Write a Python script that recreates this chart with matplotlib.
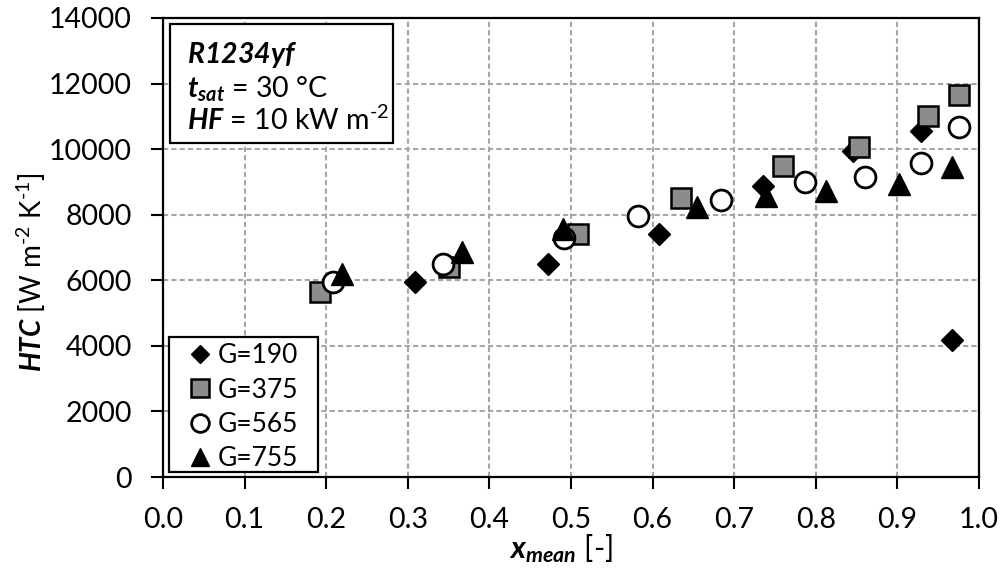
import matplotlib
matplotlib.use("Agg")
import matplotlib.pyplot as plt
from matplotlib.patches import Rectangle

plt.rcParams['font.family'] = ['Lato', 'DejaVu Sans']
plt.rcParams['mathtext.fontset'] = 'custom'
plt.rcParams['mathtext.rm'] = 'Lato'
plt.rcParams['mathtext.it'] = 'Lato:italic'
plt.rcParams['mathtext.bf'] = 'Lato:bold'
plt.rcParams['mathtext.bfit'] = 'Lato:bold:italic'

# ---- data ----
x_g190 = [0.309, 0.472, 0.608, 0.735, 0.845, 0.929, 0.967]
htc_g190 = [5950, 6500, 7400, 8880, 9950, 10550, 4170]

x_g375 = [0.193, 0.351, 0.508, 0.635, 0.760, 0.853, 0.937, 0.976]
htc_g375 = [5650, 6400, 7400, 8500, 9500, 10080, 11000, 11650]

x_g565 = [0.208, 0.343, 0.492, 0.582, 0.684, 0.787, 0.860, 0.929, 0.976]
htc_g565 = [5950, 6500, 7300, 7950, 8450, 9000, 9150, 9570, 10680]

x_g755 = [0.219, 0.366, 0.490, 0.655, 0.739, 0.812, 0.902, 0.967]
htc_g755 = [6200, 6850, 7570, 8230, 8560, 8730, 8940, 9460]

series_labels = ['G=190', 'G=375', 'G=565', 'G=755']
x_ticks = [0.0, 0.1, 0.2, 0.3, 0.4, 0.5, 0.6, 0.7, 0.8, 0.9, 1.0]
y_ticks = [0, 2000, 4000, 6000, 8000, 10000, 12000, 14000]

W, H = 1005, 569
fig = plt.figure(figsize=(W / 100, H / 100), dpi=100)


def fx(px):
    return px / W


def fy(py):
    return 1 - py / H


ax = fig.add_axes([fx(163), fy(477), 816 / W, 459 / H])

ax.plot(x_g190, htc_g190, linestyle='none', marker='D', ms=11,
        mfc='black', mec='black', label=series_labels[0])
ax.plot(x_g375, htc_g375, linestyle='none', marker='s', ms=15,
        mfc='#8c8c8c', mec='black', mew=1.8, label=series_labels[1])
ax.plot(x_g565, htc_g565, linestyle='none', marker='o', ms=15,
        mfc='white', mec='black', mew=2.0, label=series_labels[2])
ax.plot(x_g755, htc_g755, linestyle='none', marker='^', ms=16,
        mfc='black', mec='black', label=series_labels[3])

ax.set_xlim(0, 1.0)
ax.set_ylim(0, 14000)
ax.set_xticks(x_ticks)
ax.set_xticklabels([f'{v:.1f}' for v in x_ticks])
ax.set_yticks(y_ticks)
ax.set_yticklabels([str(v) for v in y_ticks])

ax.set_axisbelow(True)
ax.grid(True, color='#a6a6a6', linestyle=(0, (2.5, 1.5)), linewidth=1.5)
for s in ax.spines.values():
    s.set_color('black')
    s.set_linewidth(1.6)

ax.tick_params(axis='both', direction='out', length=8.5, width=1.5,
               labelsize=20.5, colors='black')
ax.tick_params(axis='y', pad=14)
ax.tick_params(axis='x', pad=13)

# axis labels
fig.text(fx(31), fy(272), r'$\mathbfit{HTC}$ [W m$^{\text{-2}}$ K$^{\text{-1}}$]',
         rotation=90, ha='center', va='center', fontsize=20)
fig.text(fx(561), fy(558), r'$\mathbfit{x}_{\mathbfit{mean}}$ [-]',
         ha='center', va='baseline', fontsize=22)

# annotation box
ax.add_patch(Rectangle((fx(170), fy(143)), fx(393) - fx(170), fy(24) - fy(143),
                       transform=fig.transFigure, facecolor='white',
                       edgecolor='black', linewidth=1.6, zorder=5))
fig.text(fx(187), fy(63), r'$\mathbfit{R1234yf}$', fontsize=20.5,
         va='baseline', ha='left', zorder=6)
fig.text(fx(187), fy(97), r'$\mathbfit{t}_{\mathbfit{sat}}$ = 30 °C', fontsize=20.5,
         va='baseline', ha='left', zorder=6)
fig.text(fx(187), fy(130), r'$\mathbfit{HF}$ = 10 kW m$^{\text{-2}}$', fontsize=20.5,
         va='baseline', ha='left', zorder=6)

# legend
ax.add_patch(Rectangle((fx(169), fy(472)), fx(318) - fx(169), fy(337) - fy(472),
                       transform=fig.transFigure, facecolor='white',
                       edgecolor='black', linewidth=1.6, zorder=5))
leg = ax.legend(loc='upper left', bbox_to_anchor=(fx(189), fy(343)),
                bbox_transform=fig.transFigure, frameon=False,
                fontsize=19, markerscale=0.85, handlelength=0.8,
                handletextpad=0.3, borderpad=0, borderaxespad=0,
                labelspacing=0.36)
leg.set_zorder(7)

fig.savefig('out.png', dpi=100)
